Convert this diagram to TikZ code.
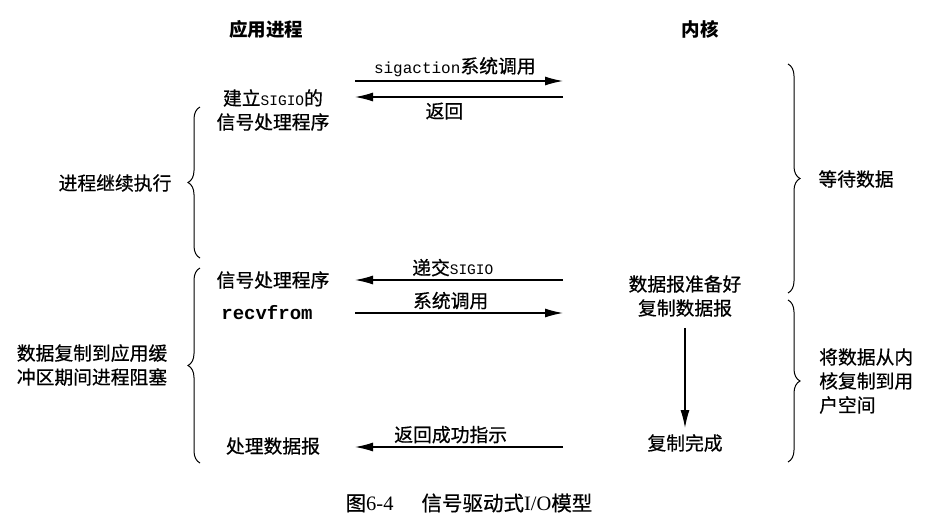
\documentclass[tikz,border=0pt]{standalone}
\usepackage{fontspec}
\setmainfont{Liberation Serif}
\setmonofont{Liberation Mono}
\newfontfamily\cjk{Noto Sans CJK SC}
\newfontfamily\cjkm[FakeBold=0.6]{Noto Sans CJK SC}
\usepackage{tikz}
\usetikzlibrary{arrows.meta}
\usetikzlibrary{decorations.pathreplacing}
\usetikzlibrary{calc}

\tikzset{
  lbl/.style={font=\cjkm\fontsize{18.8}{24}\selectfont,inner sep=1pt,align=center},
  hdr/.style={font=\cjk\bfseries\fontsize{18.5}{24}\selectfont,inner sep=1pt},
  figcap/.style={font=\cjkm\fontsize{20.5}{24}\selectfont,inner sep=1pt},
  msg/.style={-{Latex[length=18pt,width=9pt]},line width=1.3pt},
  brc/.style={decorate,decoration={brace,amplitude=12pt},line width=1pt}
}

\begin{document}
\begin{tikzpicture}[x=1pt,y=-1pt]
\useasboundingbox (0,0) rectangle (936,520);
\node (app) at (266,29)[hdr]{应用进程};
\node (ker) at (700,29)[hdr]{内核};
\node (setup) at (273,110)[lbl]{建立{\ttfamily\fontsize{14.5}{24}\selectfont SIGIO}的\\信号处理程序};
\node (cont) at (115,183)[lbl]{进程继续执行};
\node (wait) at (856,179)[lbl]{等待数据};
\node (handler) at (273,280)[lbl]{信号处理程序};
\node (recv) at (267,313)[font=\ttfamily\bfseries\fontsize{19}{24}\selectfont]{recvfrom};
\node (block) at (92,365)[lbl,align=left]{数据复制到应用缓\\冲区期间进程阻塞};
\node (ready) at (685,284)[lbl]{数据报准备好};
\node (copy) at (685,308)[lbl]{复制数据报};
\node (done) at (685,443)[lbl]{复制完成};
\node (proc) at (273,446)[lbl]{处理数据报};
\node (move) at (818,381)[lbl,anchor=west,align=left]{将数据从内\\核复制到用\\户空间};
\node (caption) at (469,503)[figcap]{图{\rmfamily 6-4}\hspace{28pt}信号驱动式{\rmfamily I/O}模型};

\coordinate (a1) at (355,81);  \coordinate (k1) at (563,81);
\coordinate (a2) at (355,97);  \coordinate (k2) at (563,97);
\coordinate (a3) at (355,280); \coordinate (k3) at (563,280);
\coordinate (a4) at (355,313); \coordinate (k4) at (563,313);
\coordinate (a5) at (355,447); \coordinate (k5) at (563,447);

\draw[msg] (a1) -- node[pos=.48,above=3pt,lbl]{{\ttfamily\fontsize{16}{24}\selectfont sigaction}系统调用} (k1);
\draw[msg] (k2) -- node[pos=.57,below=4pt,lbl]{返回} (a2);
\draw[msg] (k3) -- node[pos=.53,above=2pt,lbl]{递交{\ttfamily\fontsize{14.5}{24}\selectfont SIGIO}} (a3);
\draw[msg] (a4) -- node[pos=.46,above=2pt,lbl]{系统调用} (k4);
\draw[msg] (k5) -- node[pos=.54,above=2pt,lbl]{返回成功指示} (a5);
\draw[msg,shorten <=10pt,shorten >=5pt] (copy) -- (done);

\draw[brc] (200,258) -- (200,107);
\draw[brc] (200,463) -- (200,268);
\draw[brc] (788,64) -- (788,293);
\draw[brc] (788,300) -- (788,462);
\end{tikzpicture}
\end{document}
